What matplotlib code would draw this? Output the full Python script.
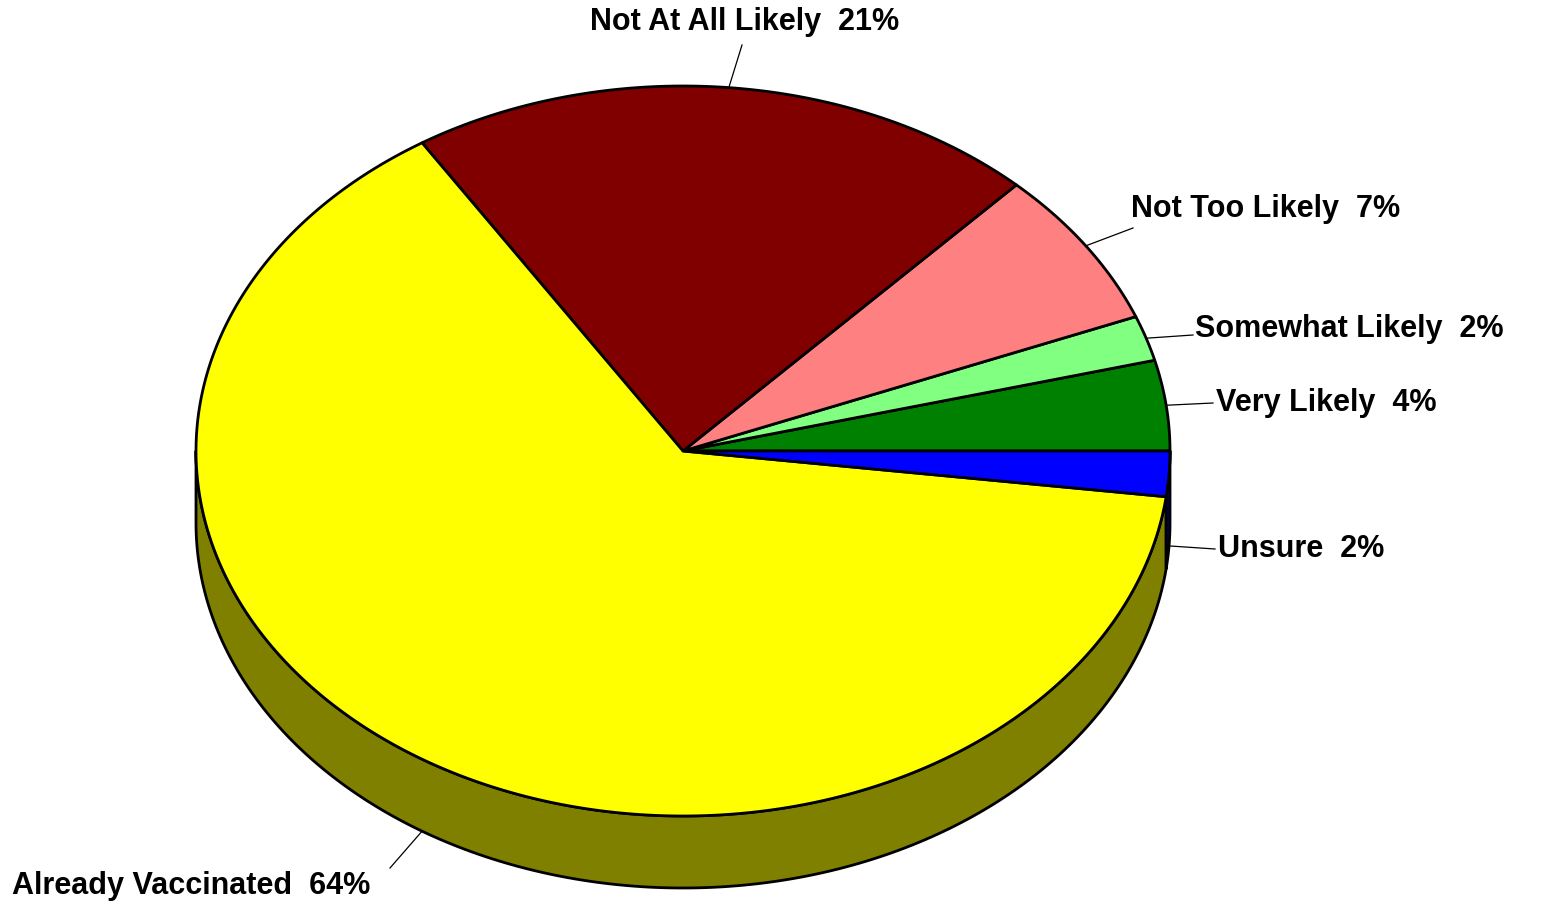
import numpy as np
import matplotlib.pyplot as plt
from matplotlib.patches import Polygon

# slice data, counter-clockwise from 3 o'clock
labels = ['Very Likely', 'Somewhat Likely', 'Not Too Likely',
          'Not At All Likely', 'Already Vaccinated', 'Unsure']
values = [4, 2, 7, 21, 64, 2]
top_colors = ['#008000', '#80ff80', '#ff8080', '#800000', '#ffff00', '#0000ff']
side_colors = ['#004000', '#40a040', '#a04040', '#400000', '#808000', '#000080']

# label text anchors (pixels) and alignment
label_pos = [(1216, 403, 'left'), (1195, 329, 'left'), (1131, 209, 'left'),
             (745, 22, 'center'), (12, 886, 'left'), (1218, 549, 'left')]
leader_end = [(1213, 403), (1193, 335), (1133, 228),
              (742, 45), (390, 868), (1215, 549)]

W, H = 1542, 906
cx, cy, rx, ry, depth = 683, 451, 487, 365, 72

plt.rcParams['font.family'] = ['Liberation Sans', 'DejaVu Sans']
fig = plt.figure(figsize=(W / 100, H / 100), dpi=100)
ax = fig.add_axes([0, 0, 1, 1])
ax.set_xlim(0, W)
ax.set_ylim(H, 0)
ax.axis('off')


def edge(t, dz=0):
    return cx + rx * np.cos(t), cy - ry * np.sin(t) + dz


bounds = np.concatenate([[0], np.cumsum(values)]) / sum(values) * 2 * np.pi

# side walls (front half only: angles pi..2pi)
for i in range(len(values)):
    a0, a1 = max(bounds[i], np.pi), min(bounds[i + 1], 2 * np.pi)
    if a1 <= a0:
        continue
    t = np.linspace(a0, a1, 200)
    xs, ys = edge(t)
    xb, yb = edge(t[::-1], depth)
    pts = np.column_stack([np.concatenate([xs, xb]), np.concatenate([ys, yb])])
    ax.add_patch(Polygon(pts, closed=True, facecolor=side_colors[i],
                         edgecolor='black', lw=2, joinstyle='round'))

# top faces
for i in range(len(values)):
    t = np.linspace(bounds[i], bounds[i + 1], 300)
    xs, ys = edge(t)
    pts = np.column_stack([np.concatenate([[cx], xs]), np.concatenate([[cy], ys])])
    ax.add_patch(Polygon(pts, closed=True, facecolor=top_colors[i],
                         edgecolor='black', lw=2, joinstyle='round'))

# labels and leader lines
for i, lab in enumerate(labels):
    mid = (bounds[i] + bounds[i + 1]) / 2
    dz = depth if np.sin(mid) < 0 else 0
    x0, y0 = edge(mid, dz)
    x1, y1 = leader_end[i]
    ax.plot([x0, x1], [y0, y1], color='black', lw=0.9)
    lx, ly, ha = label_pos[i]
    ax.text(lx, ly, f'{lab}  {values[i]}%', ha=ha, va='center',
            fontsize=22, fontweight='bold', color='black')

fig.savefig('out.png', dpi=100, facecolor='white')
